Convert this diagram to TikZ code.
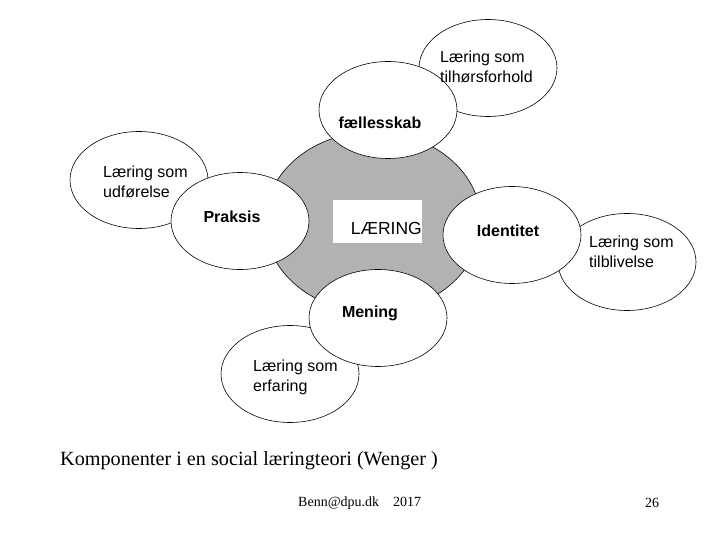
\documentclass[tikz,border=0pt]{standalone}
\usepackage{fontspec}
\setmainfont{Liberation Serif}
\setsansfont{Liberation Sans}
\usetikzlibrary{shapes.geometric}
\definecolor{learngray}{RGB}{178,178,178}

\begin{document}
\begin{tikzpicture}[x=1bp, y=-1bp,
    bubble/.style={ellipse, draw=black, fill=white, line width=0.6pt,
        minimum width=138bp, minimum height=97bp, inner sep=0pt},
    bubbletext/.style={font=\sffamily\fontsize{16bp}{20bp}\selectfont,
        align=left, anchor=west, inner sep=0pt},
    maintext/.style={font=\sffamily\bfseries\fontsize{16bp}{20bp}\selectfont,
        inner sep=0pt},
    foottext/.style={font=\fontsize{14bp}{16bp}\selectfont, inner sep=0pt}]
            \useasboundingbox (0,0) rectangle (720,540);

            \node[ellipse, draw=black, fill=learngray, line width=0.6pt,
                minimum width=216bp, minimum height=180bp] (laering) at (373,222) {};

            \node[bubble] (tilh) at (488,68) {};
            \node[bubble] (udf) at (139,180) {};
            \node[bubble] (tilb) at (627,262) {};
            \node[bubble] (erf) at (290,374) {};
            \node[bubble] (faelles) at (388,110) {};
            \node[bubble] (praksis) at (240,221) {};
            \node[bubble] (identitet) at (512,235) {};
            \node[bubble] (mening) at (378,318) {};

            \node[bubbletext] (tilhtxt) at (440,67) {Læring som\\tilhørsforhold};
            \node[bubbletext] (udftxt) at (103,182) {Læring som\\udførelse};
            \node[bubbletext] (tilbtxt) at (589,252) {Læring som\\tilblivelse};
            \node[bubbletext] (erftxt) at (253,377) {Læring som\\erfaring};

            \node[maintext] (faellestxt) at (380,123) {fællesskab};
            \node[maintext] (praksistxt) at (232,217) {Praksis};
            \node[maintext] (identitettxt) at (508,231) {Identitet};
            \node[maintext] (meningtxt) at (370,313) {Mening};

            \node[fill=white, minimum width=89bp, minimum height=43bp, inner sep=0pt]
                (laeringbox) at (377.5,221.5) {};
            \node[font=\sffamily\fontsize{17.5bp}{20bp}\selectfont, anchor=east, inner sep=0pt]
                (laeringtxt) at (422,228) {LÆRING};

            \node[font=\fontsize{20.2bp}{24bp}\selectfont, anchor=west, inner sep=0pt]
                (titel) at (60,461) {Komponenter i en social læringteori (Wenger )};
            \node[foottext, anchor=west] (mail) at (298,503) {Benn@dpu.dk\hspace{14bp}2017};
            \node[foottext] (side) at (652,503) {26};
        \end{tikzpicture}
\end{document}
